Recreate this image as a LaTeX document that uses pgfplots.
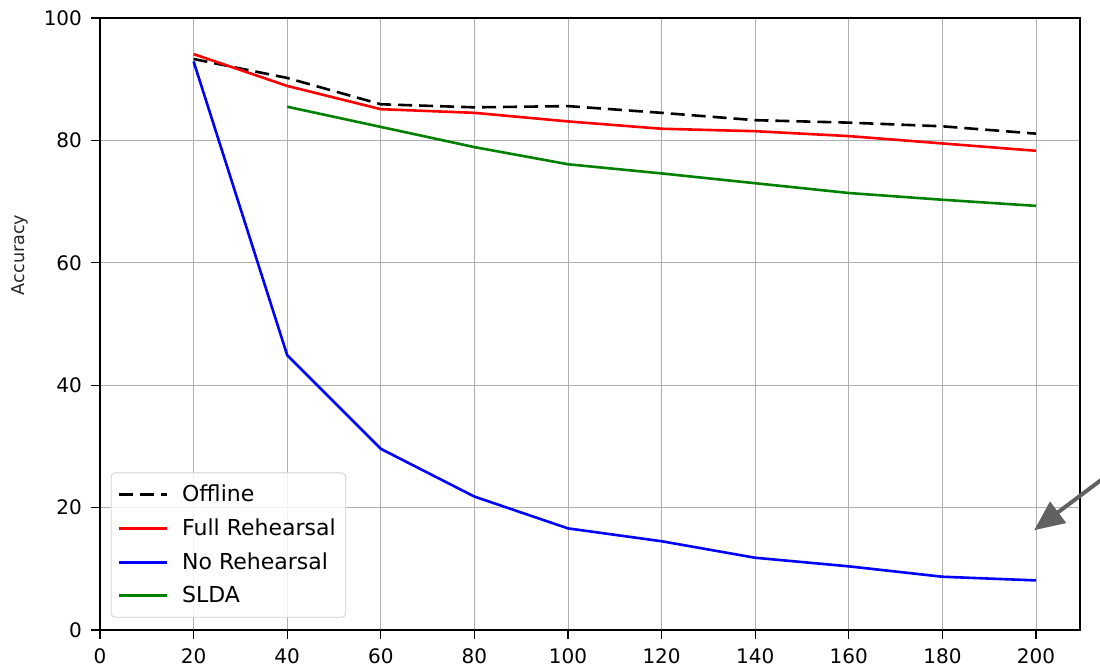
\documentclass[border=0pt]{standalone}
\usepackage{fontspec}
\setmainfont{DejaVu Sans}
\setsansfont{DejaVu Sans}
\usepackage{pgfplots}
\pgfplotsset{compat=1.18}
\usetikzlibrary{arrows.meta}

\definecolor{mplgreen}{rgb}{0,0.5,0}
\definecolor{gridgray}{HTML}{B0B0B0}

\begin{document}
\begin{tikzpicture}
\begin{axis}[
    name=ax,
    scale only axis,
    width=490pt,
    height=306pt,
    xmin=0, xmax=209.4,
    ymin=0, ymax=100,
    xtick={0,20,...,200},
    ytick={0,20,...,100},
    xtick pos=bottom,
    ytick pos=left,
    tick align=outside,
    major tick length=4.5pt,
    tick style={black, line width=0.6pt},
    grid=major,
    major grid style={gridgray, line width=0.5pt},
    axis line style={black, line width=0.7pt},
    ticklabel style={font=\fontsize{10}{12}\selectfont},
    xticklabel style={yshift=-1.5pt},
    yticklabel style={xshift=-1pt},
    /pgf/number format/assume math mode=true,
    ylabel={Accuracy},
    ylabel style={at={(axis description cs:-0.0816,0.613)}, anchor=center,
        font=\fontsize{8.8}{10}\selectfont, black!85},
    legend style={
        at={(axis description cs:0.011,0.02)},
        anchor=south west,
        draw=gray!35, rounded corners=2pt,
        fill=white, fill opacity=0.85, text opacity=1,
        font=\fontsize{11}{12}\selectfont,
        row sep=3pt,
        column sep=5pt,
        inner xsep=3pt, inner ysep=4pt,
        cells={anchor=west},
    },
    legend image code/.code={\draw[#1, line width=1.5pt] (0pt,0pt) -- (24pt,0pt);},
    clip=false,
]
\addplot[black, line width=1.3pt, dash pattern=on 7pt off 3.5pt] coordinates {
    (20,93.3) (40,90.2) (60,85.9) (80,85.4) (100,85.6)
    (120,84.5) (140,83.3) (160,82.9) (180,82.3) (200,81.1)
};
\addplot[red, line width=1.3pt] coordinates {
    (20,94.1) (40,88.9) (60,85.1) (80,84.5) (100,83.1)
    (120,81.9) (140,81.5) (160,80.7) (180,79.5) (200,78.3)
};
\addplot[blue, line width=1.3pt] coordinates {
    (20,92.9) (40,44.9) (60,29.6) (80,21.8) (100,16.6)
    (120,14.5) (140,11.8) (160,10.4) (180,8.7) (200,8.1)
};
\addplot[mplgreen, line width=1.3pt] coordinates {
    (40,85.5) (60,82.2) (80,78.9) (100,76.1)
    (120,74.6) (140,73.0) (160,71.4) (180,70.3) (200,69.3)
};
\legend{Offline, Full Rehearsal, No Rehearsal, SLDA}
\draw[black!62, line width=2pt, -{Triangle[length=15pt,width=13pt]}]
    (axis cs:220,28) -- (axis cs:199.6,16.3);
\end{axis}
\pgfresetboundingbox
\path ([shift={(-50pt,-18.5pt)}]ax.south west) rectangle ([shift={(10pt,9pt)}]ax.north east);
\end{tikzpicture}
\end{document}
